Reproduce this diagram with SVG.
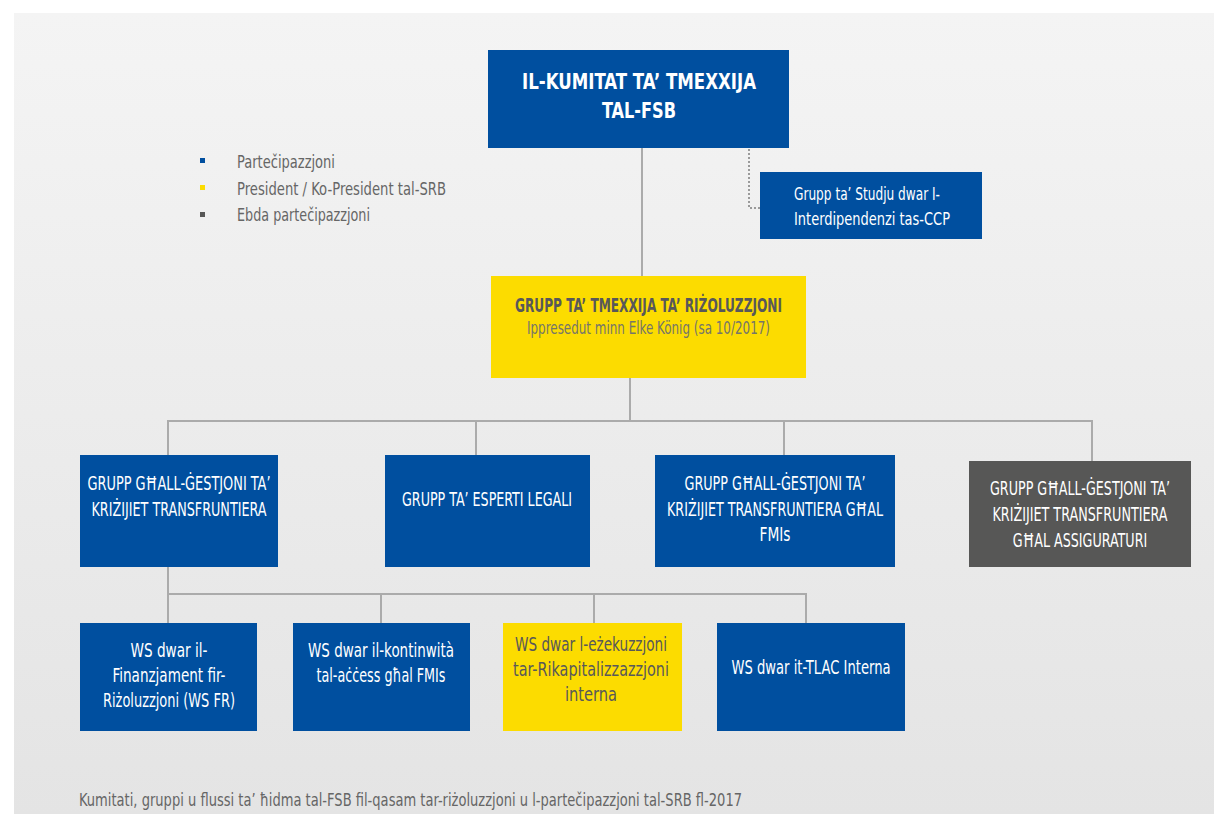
<svg xmlns="http://www.w3.org/2000/svg" width="1214" height="814" viewBox="0 0 1214 814">
  <defs>
    <linearGradient id="bg" x1="0" y1="0" x2="0" y2="1">
      <stop offset="0" stop-color="#f4f4f4"/>
      <stop offset="1" stop-color="#e4e4e4"/>
    </linearGradient>
    <style>
      text { font-family: "Liberation Sans Narrow", "DejaVu Sans Condensed", "Liberation Sans", sans-serif; }
      .blue { fill: #004f9f; }
      .yellow { fill: #fcdc00; }
      .grey { fill: #575756; }
      .w { fill: #ffffff; font-size: 20px; }
      .wt { fill: #ffffff; font-size: 22px; font-weight: bold; }
      .ws { fill: #ffffff; font-size: 18px; }
      .dk { fill: #58585a; font-size: 20px; }
      .leg { fill: #666666; font-size: 18px; }
      .conn { stroke: #ababab; stroke-width: 2; fill: none; }
      .dot { stroke: #9a9a9a; stroke-width: 2; fill: none; stroke-dasharray: 2 2; }
    </style>
  </defs>

  <rect x="0" y="0" width="1214" height="814" fill="#ffffff"/>
  <rect x="14" y="13" width="1200" height="801" fill="url(#bg)"/>

  <g id="legend">
    <rect x="200" y="158" width="5" height="5" fill="#004f9f"/>
    <rect x="200" y="185" width="5" height="5" fill="#fcdc00"/>
    <rect x="200" y="212" width="5" height="5" fill="#575756"/>
    <text class="leg" x="237" y="168" textLength="98" lengthAdjust="spacingAndGlyphs">Partečipazzjoni</text>
    <text class="leg" x="237" y="195" textLength="209" lengthAdjust="spacingAndGlyphs">President / Ko-President tal-SRB</text>
    <text class="leg" x="237" y="221" textLength="133" lengthAdjust="spacingAndGlyphs">Ebda partečipazzjoni</text>
  </g>

  <g id="connectors">
    <line class="conn" x1="642" y1="148" x2="642" y2="276"/>
    <polyline class="dot" points="749,149 749,208 760,208"/>
    <line class="conn" x1="630" y1="378" x2="630" y2="421"/>
    <polyline class="conn" points="168,455 168,421 1092,421 1092,461"/>
    <line class="conn" x1="476" y1="421" x2="476" y2="455"/>
    <line class="conn" x1="784" y1="421" x2="784" y2="455"/>
    <polyline class="conn" points="168,567 168,623"/>
    <polyline class="conn" points="168,594 806,594 806,623"/>
    <line class="conn" x1="381" y1="594" x2="381" y2="623"/>
    <line class="conn" x1="594" y1="594" x2="594" y2="623"/>
  </g>

  <g id="node-fsb">
    <rect class="blue" x="488" y="50" width="301" height="98"/>
    <text class="wt" x="522" y="89" textLength="234" lengthAdjust="spacingAndGlyphs">IL-KUMITAT TA’ TMEXXIJA</text>
    <text class="wt" x="602" y="118" textLength="74" lengthAdjust="spacingAndGlyphs">TAL-FSB</text>
  </g>

  <g id="node-ccp">
    <rect class="blue" x="760" y="172" width="222" height="67"/>
    <text class="ws" x="794" y="200" textLength="146" lengthAdjust="spacingAndGlyphs">Grupp ta’ Studju dwar I-</text>
    <text class="ws" x="794" y="225" textLength="156" lengthAdjust="spacingAndGlyphs">Interdipendenzi tas-CCP</text>
  </g>

  <g id="node-resg">
    <rect class="yellow" x="491" y="276" width="315" height="102"/>
    <text x="515" y="312" fill="#58585a" font-size="19" font-weight="bold" textLength="267" lengthAdjust="spacingAndGlyphs">GRUPP TA’ TMEXXIJA TA’ RIŻOLUZZJONI</text>
    <text x="527" y="334" fill="#75756a" font-size="18" textLength="243" lengthAdjust="spacingAndGlyphs">Ippresedut minn Elke König (sa 10/2017)</text>
  </g>

  <g id="node-cbcm" text-anchor="middle">
    <rect class="blue" x="80" y="455" width="198" height="112"/>
    <text class="w" x="179" y="490" textLength="183" lengthAdjust="spacingAndGlyphs">GRUPP GĦALL-ĠESTJONI TA’</text>
    <text class="w" x="179" y="516" textLength="175" lengthAdjust="spacingAndGlyphs">KRIŻIJIET TRANSFRUNTIERA</text>
  </g>

  <g id="node-legal" text-anchor="middle">
    <rect class="blue" x="385" y="455" width="205" height="112"/>
    <text class="w" x="487" y="506" textLength="170" lengthAdjust="spacingAndGlyphs">GRUPP TA’ ESPERTI LEGALI</text>
  </g>

  <g id="node-fmi" text-anchor="middle">
    <rect class="blue" x="655" y="455" width="240" height="112"/>
    <text class="w" x="775" y="490" textLength="181" lengthAdjust="spacingAndGlyphs">GRUPP GĦALL-ĠESTJONI TA’</text>
    <text class="w" x="775" y="516" textLength="216" lengthAdjust="spacingAndGlyphs">KRIŻIJIET TRANSFRUNTIERA GĦAL</text>
    <text class="w" x="775" y="541" textLength="31" lengthAdjust="spacingAndGlyphs">FMIs</text>
  </g>

  <g id="node-ins" text-anchor="middle">
    <rect class="grey" x="969" y="461" width="222" height="106"/>
    <text class="w" transform="translate(1080,495) scale(0.8,1)" x="0" y="0" textLength="225" lengthAdjust="spacingAndGlyphs">GRUPP GĦALL-ĠESTJONI TA’</text>
    <text class="w" transform="translate(1080,521) scale(0.8,1)" x="0" y="0" textLength="219" lengthAdjust="spacingAndGlyphs">KRIŻIJIET TRANSFRUNTIERA</text>
    <text class="w" transform="translate(1080,547) scale(0.8,1)" x="0" y="0" textLength="168" lengthAdjust="spacingAndGlyphs">GĦAL ASSIGURATURI</text>
  </g>

  <g id="node-wsfr" text-anchor="middle">
    <rect class="blue" x="80" y="623" width="177" height="108"/>
    <text class="w" x="169" y="657" textLength="77" lengthAdjust="spacingAndGlyphs">WS dwar il-</text>
    <text class="w" x="169" y="682" textLength="113" lengthAdjust="spacingAndGlyphs">Finanzjament fir-</text>
    <text class="w" x="169" y="707" textLength="132" lengthAdjust="spacingAndGlyphs">Riżoluzzjoni (WS FR)</text>
  </g>

  <g id="node-fmiaccess" text-anchor="middle">
    <rect class="blue" x="293" y="623" width="177" height="108"/>
    <text class="w" x="381" y="657" textLength="146" lengthAdjust="spacingAndGlyphs">WS dwar il-kontinwità</text>
    <text class="w" x="381" y="682" textLength="129" lengthAdjust="spacingAndGlyphs">tal-aċċess għal FMIs</text>
  </g>

  <g id="node-bailin" text-anchor="middle">
    <rect class="yellow" x="503" y="623" width="179" height="108"/>
    <text class="dk" x="591" y="651" textLength="152" lengthAdjust="spacingAndGlyphs">WS dwar l-eżekuzzjoni</text>
    <text class="dk" x="591" y="676" textLength="156" lengthAdjust="spacingAndGlyphs">tar-Rikapitalizzazzjoni</text>
    <text class="dk" x="591" y="701" textLength="52" lengthAdjust="spacingAndGlyphs">interna</text>
  </g>

  <g id="node-tlac" text-anchor="middle">
    <rect class="blue" x="717" y="623" width="188" height="108"/>
    <text class="w" x="811" y="674" textLength="159" lengthAdjust="spacingAndGlyphs">WS dwar it-TLAC Interna</text>
  </g>

  <text class="leg" x="79" y="806" textLength="663" lengthAdjust="spacingAndGlyphs">Kumitati, gruppi u flussi ta’ ħidma tal-FSB fil-qasam tar-riżoluzzjoni u l-partečipazzjoni tal-SRB fl-2017</text>
</svg>
